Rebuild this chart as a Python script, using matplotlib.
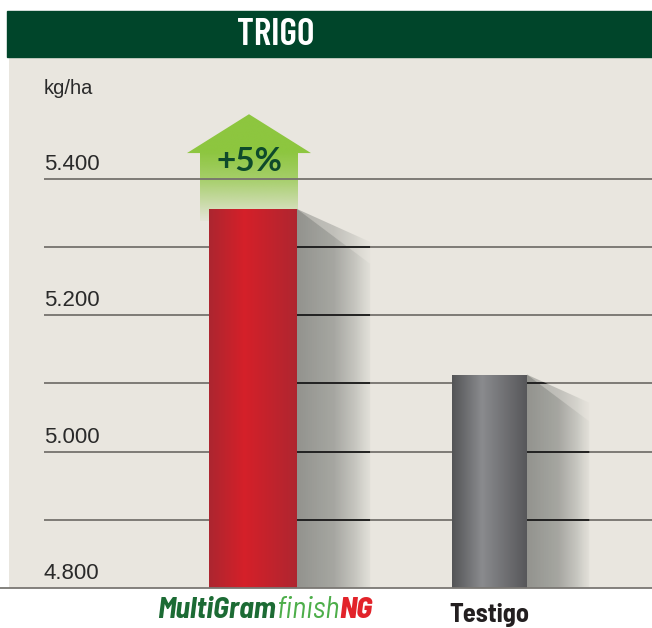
import numpy as np
import matplotlib
matplotlib.use('Agg')
import matplotlib.pyplot as plt
from matplotlib.patches import Polygon, Rectangle
from matplotlib.lines import Line2D
from matplotlib.colors import to_rgb
import matplotlib.transforms as mtransforms

# data (kg/ha)
brand_parts = ['MultiGram', 'finish', 'NG']
categories = [''.join(brand_parts), 'Testigo']
values = [5356, 5113]
y_ticks = [4800, 4900, 5000, 5100, 5200, 5300, 5400]
tick_labels = ['4.800', '', '5.000', '', '5.200', '', '5.400']
unit_label = 'kg/ha'
title = 'TRIGO'

W, H = 652, 628
BG = '#E9E6DF'
PX = 0.6817  # pixels per kg/ha on the value axis


def gradient(stops, n=256):
    xs = np.linspace(0, 1, n)
    pos = [s[0] for s in stops]
    cols = np.array([to_rgb(s[1]) for s in stops])
    out = np.zeros((n, 3))
    for k in range(3):
        out[:, k] = np.interp(xs, pos, cols[:, k])
    return out


def fill_patch(ax, patch, stops, extent, alphas=None, vertical=False, zorder=2):
    rgb = gradient(stops)
    a = np.ones(len(rgb)) if alphas is None else np.interp(np.linspace(0, 1, len(rgb)), alphas[0], alphas[1])
    img = np.dstack([rgb[:, 0], rgb[:, 1], rgb[:, 2], a])
    if vertical:
        img = img.reshape(len(rgb), 1, 4)
    im = ax.imshow(img, extent=extent, aspect='auto', origin='lower',
                   interpolation='bilinear', zorder=zorder)
    im.set_clip_path(patch)
    return im


fig = plt.figure(figsize=(W / 100, H / 100), dpi=100, facecolor='white')
ax = fig.add_axes([9 / W, 40 / H, (W - 9) / W, 531 / H])
ax.set_facecolor(BG)
for s in ax.spines.values():
    s.set_visible(False)
ax.set_xticks([])
ax.set_yticks([])

base = y_ticks[0]
centers = [253, 489.5]
widths = [88, 75]
bar_stops = [
    [(0, '#AC2630'), (0.4, '#D52029'), (1, '#AF2630')],
    [(0, '#535456'), (0.4, '#8A8B8E'), (1, '#57575A')],
]
shadow_stops = [(0, '#888984'), (0.5, '#9C9D98'), (1, '#DCDBD4')]

bars = ax.bar(centers, np.array(values) - base, bottom=base, width=widths,
              color='none', linewidth=0, zorder=3)

shadows = []
for b, stops in zip(bars, bar_stops):
    x0, w, top = b.get_x(), b.get_width(), b.get_y() + b.get_height()
    fill_patch(ax, b, stops, (x0, x0 + w, base, top), zorder=3)
    # cast shadow to the right
    sw = w * 0.83
    xr = x0 + w
    d_out = sw * 0.45 / PX
    d_in = sw * 0.75 / PX
    outer = Polygon([(xr, top), (xr + sw, top - d_out), (xr + sw, base), (xr, base)],
                    closed=True, facecolor='none', edgecolor='none')
    inner = Polygon([(xr, top), (xr + sw, top - d_in), (xr + sw, base), (xr, base)],
                    closed=True, facecolor='none', edgecolor='none')
    ax.add_patch(outer)
    ax.add_patch(inner)
    fill_patch(ax, outer, shadow_stops, (xr, xr + sw, base, top),
               alphas=([0, 0.8, 1], [0.55, 0.5, 0.2]), zorder=2)
    fill_patch(ax, inner, shadow_stops, (xr, xr + sw, base, top),
               alphas=([0, 0.8, 1], [0.75, 0.7, 0.35]), zorder=2.1)
    shadows.append(outer)

# gridlines
ax.hlines(y_ticks[1:], 44, W, color='#75726D', lw=1.3, zorder=2.5)
for sh in shadows:
    ln = ax.hlines(y_ticks[1:], 0, W, color='#1C1C1C', lw=1.3, zorder=2.6)
    ln.set_clip_path(sh)

lab_tr = mtransforms.offset_copy(ax.transData, fig=fig, y=4, units='dots')
for v, t in zip(y_ticks, tick_labels):
    if t:
        ax.text(44, v, t, transform=lab_tr, ha='left', va='bottom',
                fontsize=16, color='#2A2A2A', family='Liberation Sans')
ax.text(44, base + (588 - 94) / PX, unit_label, ha='left', va='baseline',
        fontsize=14.5, color='#2A2A2A', family='Liberation Sans')

# growth arrow over the first bar
pct = round((values[0] / values[1] - 1) * 100)
ac = centers[0] - 4
tip, wing, low = 5495, 5438, 5338
arrow = Polygon([(ac, tip), (ac + 62, wing), (ac + 49, wing), (ac + 49, low),
                 (ac - 49, low), (ac - 49, wing), (ac - 62, wing)],
                closed=True, facecolor='none', edgecolor='none')
ax.add_patch(arrow)
fill_patch(ax, arrow, [(0, '#8DC63F'), (1, '#8DC63F')], (ac - 62, ac + 62, low, tip),
           alphas=([0, 0.4, 0.64, 1], [0.05, 0.75, 1, 1]), vertical=True, zorder=1.5)
ax.text(ac, 5425, f'+{pct}%', ha='center', va='center', fontsize=24,
        fontweight='bold', color='#0E4A2B', family=['Lato', 'Liberation Sans'],
        zorder=4)

ax.set_xlim(9, W)
ax.set_ylim(base, base + 531 / PX)

# title bar
fig.add_artist(Rectangle((7 / W, 1 - 57 / H), (W - 7) / W, 46 / H,
                         transform=fig.transFigure, color='#00452A'))
fig.text(276 / W, 1 - 35 / H, title, ha='center', va='center', color='white',
         fontsize=27, fontweight=600, family=['Barlow Condensed', 'Liberation Sans'])

# bottom baseline
fig.add_artist(Line2D([0, 1], [40 / H, 40 / H], transform=fig.transFigure,
                      color='#7A7773', lw=1.3))

# category labels
fig.text(centers[1] / W, 1 - 622 / H, categories[1], ha='center', va='baseline',
         fontsize=19, fontweight='bold', color='#231F20',
         family=['Barlow Semi Condensed', 'Liberation Sans'])

styles = [('#1C6B34', 'bold'), ('#4DAE4A', 'normal'), ('#E2232A', 'heavy')]
renderer = fig.canvas.get_renderer()
size = 15
for attempt in range(2):
    texts = []
    x = 157
    for part, (col, wgt) in zip(brand_parts, styles):
        t = fig.text(x / W, 1 - 618 / H, part, ha='left', va='baseline', fontsize=size,
                     fontweight=wgt, fontstyle='italic', color=col,
                     family=['Barlow Semi Condensed', 'Liberation Sans'])
        x = t.get_window_extent(renderer).x1
        texts.append(t)
    total = x - 157
    if attempt == 0:
        for t in texts:
            t.remove()
        size = size * 215 / total

fig.savefig('out.png', dpi=100, facecolor='white')
